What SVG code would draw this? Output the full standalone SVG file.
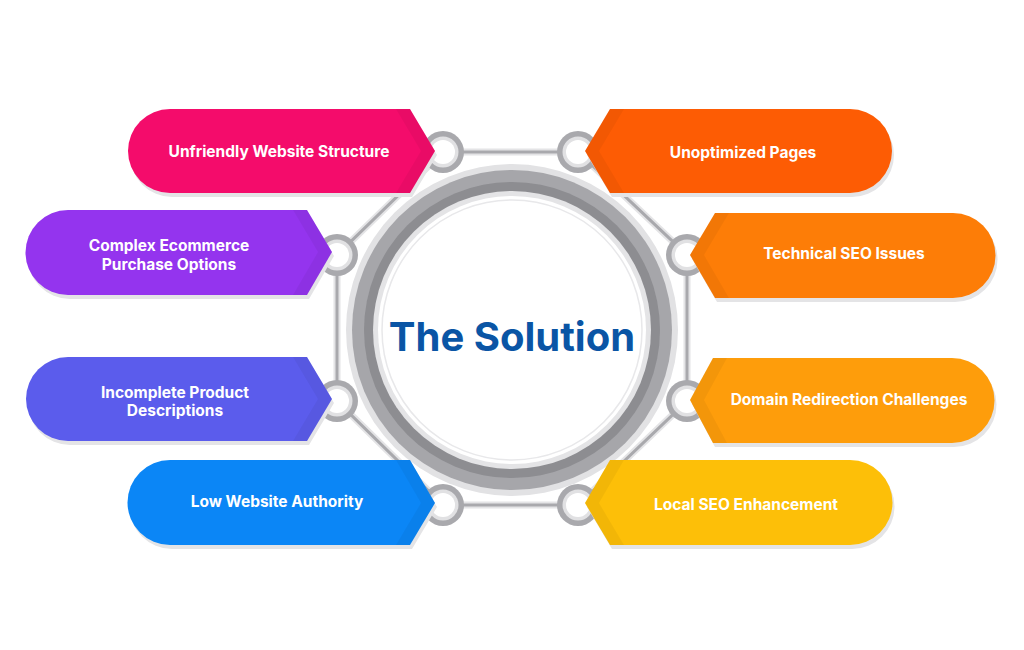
<svg xmlns="http://www.w3.org/2000/svg" width="1024" height="650" viewBox="0 0 1024 650">
<style>
.lbl{font-family:Inter,"Liberation Sans",sans-serif;font-weight:700;font-size:15.5px;fill:#ffffff;text-anchor:middle}
.title{font-family:Inter,"Liberation Sans",sans-serif;font-weight:700;font-size:40px;fill:#0a55a5;text-anchor:middle}
.under{fill:none;stroke:#e4e4e6;stroke-width:7;stroke-linecap:round}
.edge{fill:none;stroke:#a9a9ad;stroke-width:3}
.shadow{fill:#e4e4e6}
.band{fill:#000000;opacity:0.045}
</style>
<defs>
<g id="ring">
<circle r="21" fill="#a9a9ad"/>
<circle r="15.5" fill="#e1e1e3"/>
<circle r="12" fill="#ffffff"/>
</g>
</defs>
<rect width="1024" height="650" fill="#ffffff"/>
<g id="connectors">
<polygon class="under" points="443,152 578,152 687,255 687,401 578,505 443,505 337,401 337,255"/>
<polygon class="edge" points="443,152 578,152 687,255 687,401 578,505 443,505 337,401 337,255"/>
</g>
<g id="rings">
<use href="#ring" x="443" y="152"/>
<use href="#ring" x="578" y="152"/>
<use href="#ring" x="687" y="255"/>
<use href="#ring" x="687" y="401"/>
<use href="#ring" x="578" y="505"/>
<use href="#ring" x="443" y="505"/>
<use href="#ring" x="337" y="401"/>
<use href="#ring" x="337" y="255"/>
</g>
<g id="center">
<circle cx="512" cy="330" r="166" fill="#e2e2e4"/>
<circle cx="512" cy="330" r="160" fill="#a6a6aa"/>
<circle cx="512" cy="330" r="148" fill="#8d8d91"/>
<circle cx="512" cy="330" r="139" fill="#e4e4e6"/>
<circle cx="512" cy="330" r="134" fill="#ffffff"/>
<circle cx="512" cy="330" r="130" fill="none" stroke="#e8e8ea" stroke-width="1.5"/>
<text class="title" x="512" y="351">The Solution</text>
</g>
<g id="n1">
<path class="shadow" d="M172,113 H412 L437,155 L412,197 H172 A42,42 0 0 1 172,113 Z"/>
<path fill="#f40c6b" d="M170,109 H410 L435,151 L410,193 H170 A42,42 0 0 1 170,109 Z"/>
<path class="band" d="M396,109 H410 L435,151 L410,193 H396 L421,151 Z"/>
<text class="lbl" x="279" y="157">Unfriendly Website Structure</text>
</g>
<g id="n2">
<path class="shadow" d="M70,214 H309 L334,256 L309,299 H70 A42.5,42.5 0 0 1 70,214 Z"/>
<path fill="#9434ee" d="M68,210 H307 L332,252 L307,295 H68 A42.5,42.5 0 0 1 68,210 Z"/>
<path class="band" d="M293,210 H307 L332,252 L307,295 H293 L318,252 Z"/>
<text class="lbl" x="169" y="251">Complex Ecommerce</text>
<text class="lbl" x="169" y="270">Purchase Options</text>
</g>
<g id="n3">
<path class="shadow" d="M70,361 H309 L334,403 L309,445 H70 A42,42 0 0 1 70,361 Z"/>
<path fill="#5b5cec" d="M68,357 H307 L332,399 L307,441 H68 A42,42 0 0 1 68,357 Z"/>
<path class="band" d="M293,357 H307 L332,399 L307,441 H293 L318,399 Z"/>
<text class="lbl" x="175" y="398">Incomplete Product</text>
<text class="lbl" x="175" y="416">Descriptions</text>
</g>
<g id="n4">
<path class="shadow" d="M172,464 H412 L437,507 L412,549 H172 A42.5,42.5 0 0 1 172,464 Z"/>
<path fill="#0b86f6" d="M170,460 H410 L435,503 L410,545 H170 A42.5,42.5 0 0 1 170,460 Z"/>
<path class="band" d="M396,460 H410 L435,503 L410,545 H396 L421,503 Z"/>
<text class="lbl" x="277" y="507">Low Website Authority</text>
</g>
<g id="n5">
<path class="shadow" d="M852,113 H612 L587,155 L612,197 H852 A42,42 0 0 0 852,113 Z"/>
<path fill="#fd5c04" d="M850,109 H610 L585,151 L610,193 H850 A42,42 0 0 0 850,109 Z"/>
<path class="band" d="M624,109 H610 L585,151 L610,193 H624 L599,151 Z"/>
<text class="lbl" x="743" y="158">Unoptimized Pages</text>
</g>
<g id="n6">
<path class="shadow" d="M955,217 H717 L692,259 L717,302 H955 A42.5,42.5 0 0 0 955,217 Z"/>
<path fill="#fd7d07" d="M953,213 H715 L690,255 L715,298 H953 A42.5,42.5 0 0 0 953,213 Z"/>
<path class="band" d="M729,213 H715 L690,255 L715,298 H729 L704,255 Z"/>
<text class="lbl" x="844" y="259">Technical SEO Issues</text>
</g>
<g id="n7">
<path class="shadow" d="M954,362 H715 L692,404 L715,447 H954 A42.5,42.5 0 0 0 954,362 Z"/>
<path fill="#fe9d0b" d="M952,358 H713 L690,400 L713,443 H952 A42.5,42.5 0 0 0 952,358 Z"/>
<path class="band" d="M727,358 H713 L690,400 L713,443 H727 L704,400 Z"/>
<text class="lbl" x="849" y="405">Domain Redirection Challenges</text>
</g>
<g id="n8">
<path class="shadow" d="M852,464 H612 L587,507 L612,549 H852 A42.5,42.5 0 0 0 852,464 Z"/>
<path fill="#fdbf08" d="M850,460 H610 L585,503 L610,545 H850 A42.5,42.5 0 0 0 850,460 Z"/>
<path class="band" d="M624,460 H610 L585,503 L610,545 H624 L599,503 Z"/>
<text class="lbl" x="746" y="510">Local SEO Enhancement</text>
</g>
</svg>
